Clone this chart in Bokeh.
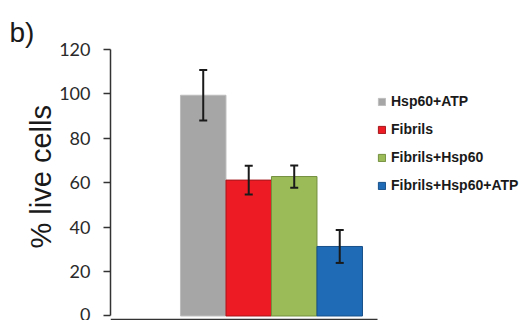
import numpy as np
from bokeh.plotting import figure
from bokeh.models import (ColumnDataSource, Range1d, FixedTicker, Whisker, TeeHead,
                          Legend, LegendItem, Title)
from bokeh.embed import file_html
from bokeh.resources import INLINE

# ---- data ----
categories = ["Hsp60+ATP", "Fibrils", "Fibrils+Hsp60", "Fibrils+Hsp60+ATP"]
live_cells = [99.4, 61.2, 62.8, 31.3]
errors = [11.4, 6.5, 5.0, 7.4]
bar_colors = ["#A6A6A6", "#ED1C24", "#9BBB59", "#1F6BB5"]
edge_colors = ["#BDBDBD", "#A3161B", "#74903F", "#17508A"]
y_ticks = [0, 20, 40, 60, 80, 100, 120]

vals = np.array(live_cells)
errs = np.array(errors)
src = ColumnDataSource(dict(
    x=np.arange(len(categories)),
    value=vals,
    upper=vals + errs,
    lower=vals - errs,
    color=bar_colors,
    edge=edge_colors,
    label=categories,
))

p = figure(width=520, height=320, output_backend="svg", toolbar_location=None,
           x_range=Range1d(-2.038, 6.973), y_range=Range1d(-2.03, 120),
           min_border_left=110, min_border_right=0, min_border_top=49,
           min_border_bottom=0)

r = p.vbar(x="x", top="value", bottom=0, width=1.0, fill_color="color",
           line_color="edge", line_width=1, source=src)

head_u = TeeHead(size=8, line_width=2, line_color="#1a1a1a")
head_l = TeeHead(size=8, line_width=2, line_color="#1a1a1a")
p.add_layout(Whisker(source=src, base="x", upper="upper", lower="lower",
                     line_width=2, line_color="#1a1a1a", level="overlay",
                     upper_head=head_u, lower_head=head_l))

# x axis: only a baseline, no ticks or labels
xa = p.xaxis[0]
xa.fixed_location = -1.58
xa.ticker = FixedTicker(ticks=[])
xa.bounds = (-2.19, 3.83)
xa.axis_line_color = "#333333"
xa.axis_line_width = 1.5
xa.major_tick_line_color = None
xa.minor_tick_line_color = None
xa.major_label_text_color = None

p.xgrid.visible = False
p.ygrid.visible = False
p.outline_line_color = None
p.background_fill_color = "white"

ya = p.yaxis[0]
ya.ticker = FixedTicker(ticks=y_ticks)
ya.bounds = (0, 120)
ya.axis_line_color = "#333333"
ya.axis_line_width = 1.5
ya.major_tick_line_color = "#333333"
ya.major_tick_line_width = 1.5
ya.major_tick_out = 7
ya.major_tick_in = 0
ya.minor_tick_line_color = None
ya.major_label_text_font = "Lato"
ya.major_label_text_font_size = "18px"
ya.major_label_text_color = "#2a2a2a"
ya.major_label_standoff = 13

p.title.text = "b)"
p.title.text_font = "Liberation Sans"
p.title.text_font_size = "28px"
p.title.text_font_style = "normal"
p.title.text_color = "#1a1a1a"
p.title.align = "left"
p.title.offset = -101
p.title.standoff = 4

p.add_layout(Title(text="% live cells", align="left", offset=72,
                   text_font="Liberation Sans", text_font_size="29px",
                   text_font_style="normal", text_color="#1a1a1a",
                   standoff=0), "left")

legend = Legend(
    items=[LegendItem(label=categories[i], renderers=[r], index=i)
           for i in range(len(categories))],
    location=(267, 121), margin=0, padding=0, spacing=0,
    glyph_width=9, glyph_height=9, label_standoff=5, label_height=28,
    label_text_font="Liberation Sans", label_text_font_size="14px",
    label_text_font_style="bold", label_text_color="#1a1a1a",
    border_line_color=None, background_fill_alpha=0,
)
p.add_layout(legend, "center")

open("out.html", "w").write(file_html(p, INLINE))
